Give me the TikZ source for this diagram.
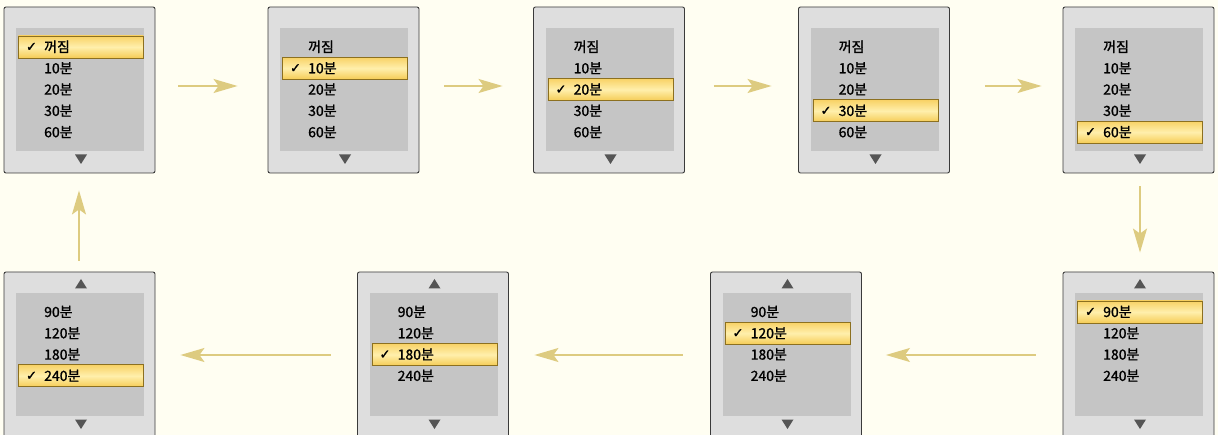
\documentclass[tikz,border=0pt]{standalone}
\usepackage{fontspec}
\newfontfamily\kr[FakeBold=1.2]{Noto Sans CJK KR}
\newfontfamily\dv[FakeBold=1.5]{DejaVu Sans}
\usetikzlibrary{arrows.meta}
\definecolor{bg}{HTML}{FFFEF2}
\definecolor{boxfill}{HTML}{DEDEDE}
\definecolor{boxline}{HTML}{3A3A3A}
\definecolor{panelfill}{HTML}{C5C5C5}
\definecolor{hltop}{HTML}{F8D266}
\definecolor{hlmid}{HTML}{FFEFAC}
\definecolor{hlbot}{HTML}{F5CC55}
\definecolor{hlline}{HTML}{8C7020}
\definecolor{arrowc}{HTML}{DDCB80}
\definecolor{trig}{HTML}{555555}
\tikzset{
  outerbox/.style={draw=boxline, fill=boxfill, rounded corners=2pt, line width=0.9pt,
    minimum width=151pt, minimum height=166pt, inner sep=0pt},
  panel/.style={fill=panelfill, minimum width=128pt, minimum height=123pt, inner sep=0pt},
  hl/.style={draw=hlline, line width=0.8pt, top color=hltop, bottom color=hlbot, middle color=hlmid,
    minimum width=125pt, minimum height=22pt, inner sep=0pt},
  item/.style={font=\kr\fontsize{14}{16}\selectfont, anchor=west, inner sep=0pt,
    text height=10pt, text depth=0pt},
  chk/.style={font=\dv\fontsize{13}{15}\selectfont, inner sep=0pt},
  flow/.style={draw=arrowc, line width=1.7pt, -{Stealth[length=24pt,width=14pt,inset=5pt]}},
}
% #1 name, #2 left, #3 top, #4 items, #5 selected, #6 up triangle (1/0)
\newcommand\dialbox[6]{%
\begin{scope}[shift={(#2,#3)}]
  \node[outerbox] (#1) at (75.5,83) {};
  \node[panel] (#1-p) at (76,82.5) {};
  \foreach \t [count=\i] in {#4} {
    \pgfmathsetmacro\yy{40+(\i-1)*21.3}
    \ifnum\i=#5
      \node[hl, anchor=west] (#1-h) at (14,\yy) {};
      \node[chk] (#1-c) at (27.5,\yy) {✓};
    \fi
    \node[item] (#1-\i) at (40,\yy) {\t};
  }
  \fill[trig] (71,147.5) -- (83,147.5) -- (77,157) -- cycle;
  \ifnum#6=1
    \fill[trig] (71,16.5) -- (83,16.5) -- (77,7) -- cycle;
  \fi
\end{scope}}
\begin{document}
\begin{tikzpicture}[x=1pt,y=-1pt]
\fill[bg] (0,0) rectangle (1218,435);
\useasboundingbox (0,0) rectangle (1218,435);
\clip (0,0) rectangle (1218,435);
\dialbox{t1}{4}{7}{꺼짐,10분,20분,30분,60분}{1}{0}
\dialbox{t2}{268}{7}{꺼짐,10분,20분,30분,60분}{2}{0}
\dialbox{t3}{533.5}{7}{꺼짐,10분,20분,30분,60분}{3}{0}
\dialbox{t4}{798.5}{7}{꺼짐,10분,20분,30분,60분}{4}{0}
\dialbox{t5}{1063}{7}{꺼짐,10분,20분,30분,60분}{5}{0}
\dialbox{b1}{1063}{272}{90분,120분,180분,240분}{1}{1}
\dialbox{b2}{710.5}{272}{90분,120분,180분,240분}{2}{1}
\dialbox{b3}{357.5}{272}{90분,120분,180분,240분}{3}{1}
\dialbox{b4}{4}{272}{90분,120분,180분,240분}{4}{1}
\draw[flow, shorten <=23pt, shorten >=30pt] (t1.east|-0,86) -- (t2.west|-0,86);
\draw[flow, shorten <=25pt, shorten >=30.5pt] (t2.east|-0,86) -- (t3.west|-0,86);
\draw[flow, shorten <=29pt, shorten >=26.5pt] (t3.east|-0,86) -- (t4.west|-0,86);
\draw[flow, shorten <=35pt, shorten >=21pt] (t4.east|-0,86) -- (t5.west|-0,86);
\draw[flow, shorten <=13pt, shorten >=19pt] ([xshift=1.5pt]t5.south) -- ([xshift=1.5pt]b1.north);
\draw[flow, shorten <=27pt, shorten >=24pt] (b1.west|-0,355) -- (b2.east|-0,355);
\draw[flow, shorten <=27.5pt, shorten >=25.5pt] (b2.west|-0,355) -- (b3.east|-0,355);
\draw[flow, shorten <=26.5pt, shorten >=25pt] (b3.west|-0,355) -- (b4.east|-0,355);
\draw[flow, shorten <=11pt, shorten >=17pt] ([xshift=-0.5pt]b4.north) -- ([xshift=-0.5pt]t1.south);
\end{tikzpicture}
\end{document}
